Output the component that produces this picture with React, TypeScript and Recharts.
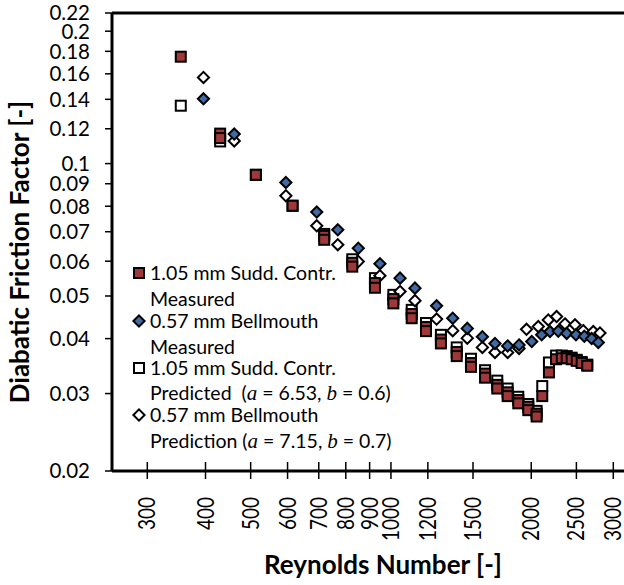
import React from "react";
import { ScatterChart, Scatter, XAxis, YAxis, ReferenceLine, Legend, Label } from "recharts";

const xTicks = [300, 400, 500, 600, 700, 800, 900, 1000, 1200, 1500, 2000, 2500, 3000];
const yTicks = [0.02, 0.03, 0.04, 0.05, 0.06, 0.07, 0.08, 0.09, 0.1, 0.12, 0.14, 0.16, 0.18, 0.2, 0.22];

// [Re, f] pairs
const suddMeasured = [
  [354, 0.175], [430, 0.117], [430, 0.1143], [513, 0.0943], [615, 0.0802],
  [719, 0.0685], [719, 0.0671], [826, 0.0595], [826, 0.0583], [924, 0.0535], [924, 0.0522],
  [1012, 0.0492], [1012, 0.0481], [1108, 0.0455], [1108, 0.0445], [1189, 0.0425], [1189, 0.0416],
  [1280, 0.0398], [1280, 0.039], [1384, 0.0373], [1384, 0.0365], [1485, 0.0352], [1485, 0.0345],
  [1592, 0.0333], [1592, 0.0326], [1691, 0.0314], [1691, 0.0308], [1780, 0.0302], [1780, 0.0296],
  [1876, 0.029], [1876, 0.0285], [1971, 0.028], [1971, 0.0275], [2054, 0.027], [2054, 0.0266],
  [2112, 0.0296], [2183, 0.0335], [2261, 0.0359], [2326, 0.0361], [2383, 0.0361], [2442, 0.0359],
  [2504, 0.0356], [2566, 0.0352], [2638, 0.0347],
];

const bellMeasured = [
  [396, 0.1404], [461, 0.1167], [595, 0.0906], [693, 0.0776], [769, 0.0707], [851, 0.0642],
  [947, 0.0592], [1046, 0.0549], [1126, 0.0521], [1253, 0.0475], [1357, 0.0445], [1458, 0.0422],
  [1571, 0.0404], [1672, 0.039], [1780, 0.0385], [1883, 0.0387], [2005, 0.0394], [2106, 0.0408],
  [2194, 0.0415], [2286, 0.0416], [2383, 0.0411], [2495, 0.0408], [2600, 0.0405], [2696, 0.04],
  [2786, 0.0392],
];

const suddPredicted = [
  [354, 0.1354], [430, 0.1123], [513, 0.0943], [615, 0.0802], [719, 0.0692], [826, 0.0606],
  [924, 0.0549], [1012, 0.0503], [1108, 0.0465], [1189, 0.0434], [1280, 0.0408], [1384, 0.0382],
  [1485, 0.036], [1592, 0.0339], [1691, 0.0321], [1780, 0.0308], [1876, 0.0295], [1971, 0.0284],
  [2054, 0.0274], [2112, 0.0312], [2183, 0.0353], [2261, 0.0366], [2326, 0.0366], [2383, 0.0365],
  [2442, 0.0362], [2504, 0.0358], [2566, 0.0354], [2638, 0.0349],
];

const bellPredicted = [
  [396, 0.157], [461, 0.1126], [595, 0.0845], [693, 0.0722], [769, 0.0654], [851, 0.0599],
  [947, 0.0556], [1046, 0.0512], [1126, 0.0488], [1253, 0.0443], [1357, 0.0417], [1458, 0.0401],
  [1571, 0.0382], [1672, 0.0372], [1780, 0.0372], [1883, 0.038], [1954, 0.042], [2071, 0.0426],
  [2176, 0.0441], [2267, 0.0449], [2363, 0.0432], [2483, 0.043], [2586, 0.0417], [2718, 0.0415],
  [2809, 0.0412],
];

const RED = "#A0383A";
const BLUE = "#3E6BA3";
const FONT = "Lato, 'Open Sans', sans-serif";

const toPts = (arr: number[][]) => arr.map(([re, f]) => ({ re, f }));

const square = (fill: string) => (p: any) => (
  <rect x={p.cx - 5} y={p.cy - 5} width={10} height={10} fill={fill} stroke="#000" strokeWidth={2} />
);
const diamond = (fill: string) => (p: any) => (
  <path
    d={`M${p.cx},${p.cy - 5.6}L${p.cx + 5.6},${p.cy}L${p.cx},${p.cy + 5.6}L${p.cx - 5.6},${p.cy}Z`}
    fill={fill}
    stroke="#000"
    strokeWidth={2}
  />
);

function YTick({ x, y, payload }: any) {
  return (
    <g>
      <line x1={x - 7} x2={x} y1={y} y2={y} stroke="#000" strokeWidth={1.5} />
      <text x={x - 22} y={y} dy="0.36em" textAnchor="end" fontSize={20.5} fontFamily={FONT} fill="#000">
        {payload.value}
      </text>
    </g>
  );
}

function XTick({ x, y, payload }: any) {
  // labels in the source are a bit taller than they are long, hence the stretch
  return (
    <g>
      <line x1={x} x2={x} y1={y - 9} y2={y + 8} stroke="#000" strokeWidth={1.5} />
      <text
        transform={`translate(${x},497) rotate(-90) scale(1,1.18)`}
        textAnchor="end"
        dy="0.36em"
        fontSize={19}
        fontFamily={FONT}
        fill="#000"
      >
        {payload.value}
      </text>
    </g>
  );
}

const it = (s: string) => (
  <span style={{ fontFamily: "'Liberation Serif', serif", fontStyle: "italic", fontSize: 21 }}>{s}</span>
);

const legendLines = [
  { y: 272.5, marker: "redSq", text: <>1.05 mm Sudd. Contr.</> },
  { y: 299, text: <>Measured</> },
  { y: 320.7, marker: "blueDia", text: <>0.57 mm Bellmouth</> },
  { y: 346.7, text: <>Measured</> },
  { y: 368.3, marker: "openSq", text: <>1.05 mm Sudd. Contr.</> },
  { y: 393.3, text: <>Predicted{"  "}({it("a")} = 6.53, {it("b")} = 0.6)</> },
  { y: 415, marker: "openDia", text: <>0.57 mm Bellmouth</> },
  { y: 440.7, text: <>Prediction ({it("a")} = 7.15, {it("b")} = 0.7)</> },
];

function LegendMarker({ kind }: { kind: string }) {
  const fill = kind === "redSq" ? RED : kind === "blueDia" ? BLUE : "#fff";
  return (
    <svg width={16} height={16} style={{ position: "absolute", left: 131, top: -8 }}>
      {kind.endsWith("Sq") ? (
        <rect x={3} y={3} width={10} height={10} fill={fill} stroke="#000" strokeWidth={2} />
      ) : (
        <path d="M8,2.4L13.6,8L8,13.6L2.4,8Z" fill={fill} stroke="#000" strokeWidth={2} />
      )}
    </svg>
  );
}

function LegendBox() {
  return (
    <div style={{ position: "relative", width: 624, height: 585, pointerEvents: "none" }}>
      {legendLines.map((l, i) => (
        <div key={i} style={{ position: "absolute", left: 0, top: l.y, height: 0 }}>
          {l.marker && <LegendMarker kind={l.marker} />}
          <div
            style={{
              position: "absolute",
              left: 150,
              top: -13,
              whiteSpace: "pre",
              fontFamily: FONT,
              fontSize: 19.5,
              lineHeight: "26px",
              color: "#000",
            }}
          >
            {l.text}
          </div>
        </div>
      ))}
    </div>
  );
}

export default function App() {
  return (
    <div style={{ width: 624, height: 585, background: "#fff" }}>
      <style>{`body{margin:0;background:#fff}`}</style>
      <ScatterChart width={624} height={585} margin={{ top: 13, right: 0, bottom: 0, left: 0 }}>
        <XAxis
          dataKey="re"
          type="number"
          scale="log"
          domain={[252, 3163]}
          allowDataOverflow
          ticks={xTicks}
          interval={0}
          height={114}
          tickSize={0}
          tickMargin={0}
          axisLine={{ stroke: "#000", strokeWidth: 3 }}
          tickLine={false}
          tick={<XTick />}
        >
          <Label
            content={() => (
              <text x={383} y={574} textAnchor="middle" fontSize={26} fontWeight="bold" fontFamily={FONT} fill="#000">
                Reynolds Number [-]
              </text>
            )}
          />
        </XAxis>
        <YAxis
          dataKey="f"
          type="number"
          scale="log"
          domain={[0.02, 0.22]}
          allowDataOverflow
          ticks={yTicks}
          interval={0}
          width={112}
          tickSize={0}
          tickMargin={0}
          axisLine={{ stroke: "#000", strokeWidth: 3 }}
          tickLine={false}
          tick={<YTick />}
        >
          <Label
            content={() => (
              <text
                transform="translate(20,252) rotate(-90)"
                textAnchor="middle"
                dy="0.36em"
                fontSize={26}
                fontWeight="bold"
                fontFamily={FONT}
                fill="#000"
              >
                Diabatic Friction Factor [-]
              </text>
            )}
          />
        </YAxis>
        <ReferenceLine y={0.22} stroke="#000" strokeWidth={3} />
        <Scatter name="1.05 mm Sudd. Contr. Predicted" data={toPts(suddPredicted)} shape={square("#fff")} isAnimationActive={false} />
        <Scatter name="0.57 mm Bellmouth Prediction" data={toPts(bellPredicted)} shape={diamond("#fff")} isAnimationActive={false} />
        <Scatter name="1.05 mm Sudd. Contr. Measured" data={toPts(suddMeasured)} shape={square(RED)} isAnimationActive={false} />
        <Scatter name="0.57 mm Bellmouth Measured" data={toPts(bellMeasured)} shape={diamond(BLUE)} isAnimationActive={false} />
        <Legend
          layout="horizontal"
          verticalAlign="middle"
          align="center"
          wrapperStyle={{ position: "absolute", left: 0, top: 0, width: 624, height: 585 }}
          content={() => <LegendBox />}
        />
      </ScatterChart>
    </div>
  );
}
